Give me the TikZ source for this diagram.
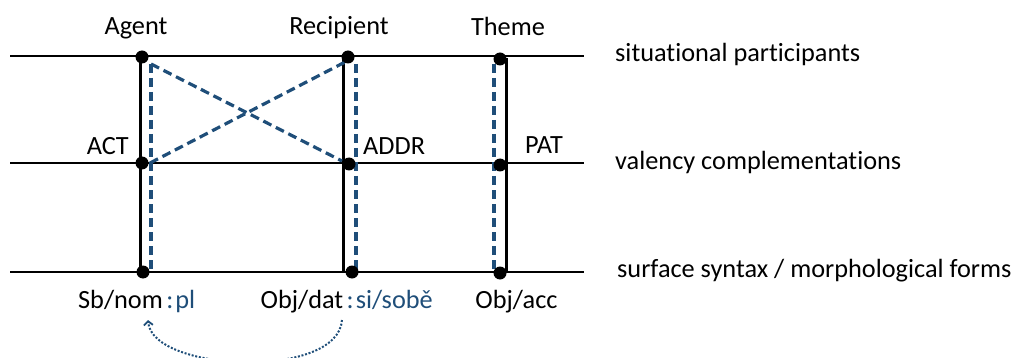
\documentclass[tikz,border=0pt]{standalone}
\usepackage{fontspec}
\setmainfont{Carlito}[Ligatures={NoCommon}]
\usetikzlibrary{arrows.meta}
\definecolor{dblue}{RGB}{31,78,121}
\begin{document}
\begin{tikzpicture}[x=1pt,y=-1pt,
  every node/.style={font=\fontsize{26.3}{32}\selectfont, inner sep=0pt},
  dot/.style={circle,fill=black,minimum size=13pt,inner sep=0pt},
  level/.style={line width=1.7pt},
  solidlink/.style={line width=3pt},
  dashlink/.style={draw=dblue,line width=3.2pt,dash pattern=on 9pt off 5pt},
  bl/.style={text=dblue},
  refarrow/.style={draw=dblue,line width=2pt,dash pattern=on 2pt off 1.7pt,-{Straight Barb[length=4pt,width=9pt,line width=1.8pt]}}]
\useasboundingbox (0,0) rectangle (1016,358);
\clip (0,0) rectangle (1016,358);
% level lines
\coordinate (L1w) at (10,56);  \coordinate (L1e) at (584,56);
\coordinate (L2w) at (10,163); \coordinate (L2e) at (584,163);
\coordinate (L3w) at (10,272); \coordinate (L3e) at (584,272);
\draw[level] (L1w) -- (L1e);
\draw[level] (L2w) -- (L2e);
\draw[level] (L3w) -- (L3e);
% link end points
\coordinate (As1) at (140,56);  \coordinate (As3) at (140,272);
\coordinate (Ad1) at (151,64);  \coordinate (Ad3) at (151,272);
\coordinate (Ax2) at (150,163);
\coordinate (Rs1) at (343,56);  \coordinate (Rs3) at (343,272);
\coordinate (Rd1) at (356,64);  \coordinate (Rd3) at (356,272);
\coordinate (Rx1) at (349,60);  \coordinate (Rx2) at (342,161);
\coordinate (Td1) at (494,64);  \coordinate (Td3) at (494,272);
\coordinate (Ts1) at (506,58);  \coordinate (Ts3) at (506,272);
% solid links
\draw[solidlink] (As1) -- (As3);
\draw[solidlink] (Rs1) -- (Rs3);
\draw[solidlink] (Ts1) -- (Ts3);
% dashed links
\draw[dashlink] (Ad1) -- (Ad3);
\draw[dashlink] (Rd1) -- (Rd3);
\draw[dashlink] (Td1) -- (Td3);
\draw[dashlink] (Ad1) -- (Rx2);
\draw[dashlink] (Ax2) -- (Rx1);
% dots
\node[dot] (A1) at (142,57) {};
\node[dot] (A2) at (142,163) {};
\node[dot] (A3) at (143,272) {};
\node[dot] (R1) at (348,57) {};
\node[dot] (R2) at (349,164) {};
\node[dot] (R3) at (352,272) {};
\node[dot] (T1) at (500,59) {};
\node[dot] (T2) at (500,165) {};
\node[dot] (T3) at (500,273) {};
% top labels
\node[anchor=base] (agent) at (136,35) {Agent};
\node[anchor=base] (recip) at (339,35) {Recipient};
\node[anchor=base] (theme) at (508,36) {Theme};
% middle labels
\node[anchor=base east] (act) at (129,155) {ACT};
\node[anchor=base west] (addr) at (363,155) {ADDR};
\node[anchor=base west] (pat) at (525,154) {PAT};
% level names
\node[anchor=base west] (lv1) at (615,62) {situational participants};
\node[anchor=base west] (lv2) at (615,170) {valency complementations};
\node[anchor=base west] (lv3) at (617,277) {surface syntax / morphological forms};
% bottom labels
\node[anchor=base] (sbnom) at (120.5,308) {Sb/nom};
\node[anchor=base west,bl] (pl) at (sbnom.base east) {\kern3pt:\kern2pt pl};
\node[anchor=base] (objdat) at (302,308) {Obj/dat};
\node[anchor=base west,bl] (sobe) at (objdat.base east) {\kern3pt:\kern2pt si/sobě};
\node[anchor=base] (objacc) at (516.5,308) {Obj/acc};
% reference arrow
\coordinate (arrS) at (342,320);
\coordinate (arrE) at (148,320);
\draw[refarrow] (arrS) .. controls (338,380) and (152,372) .. (arrE);
\end{tikzpicture}
\end{document}
